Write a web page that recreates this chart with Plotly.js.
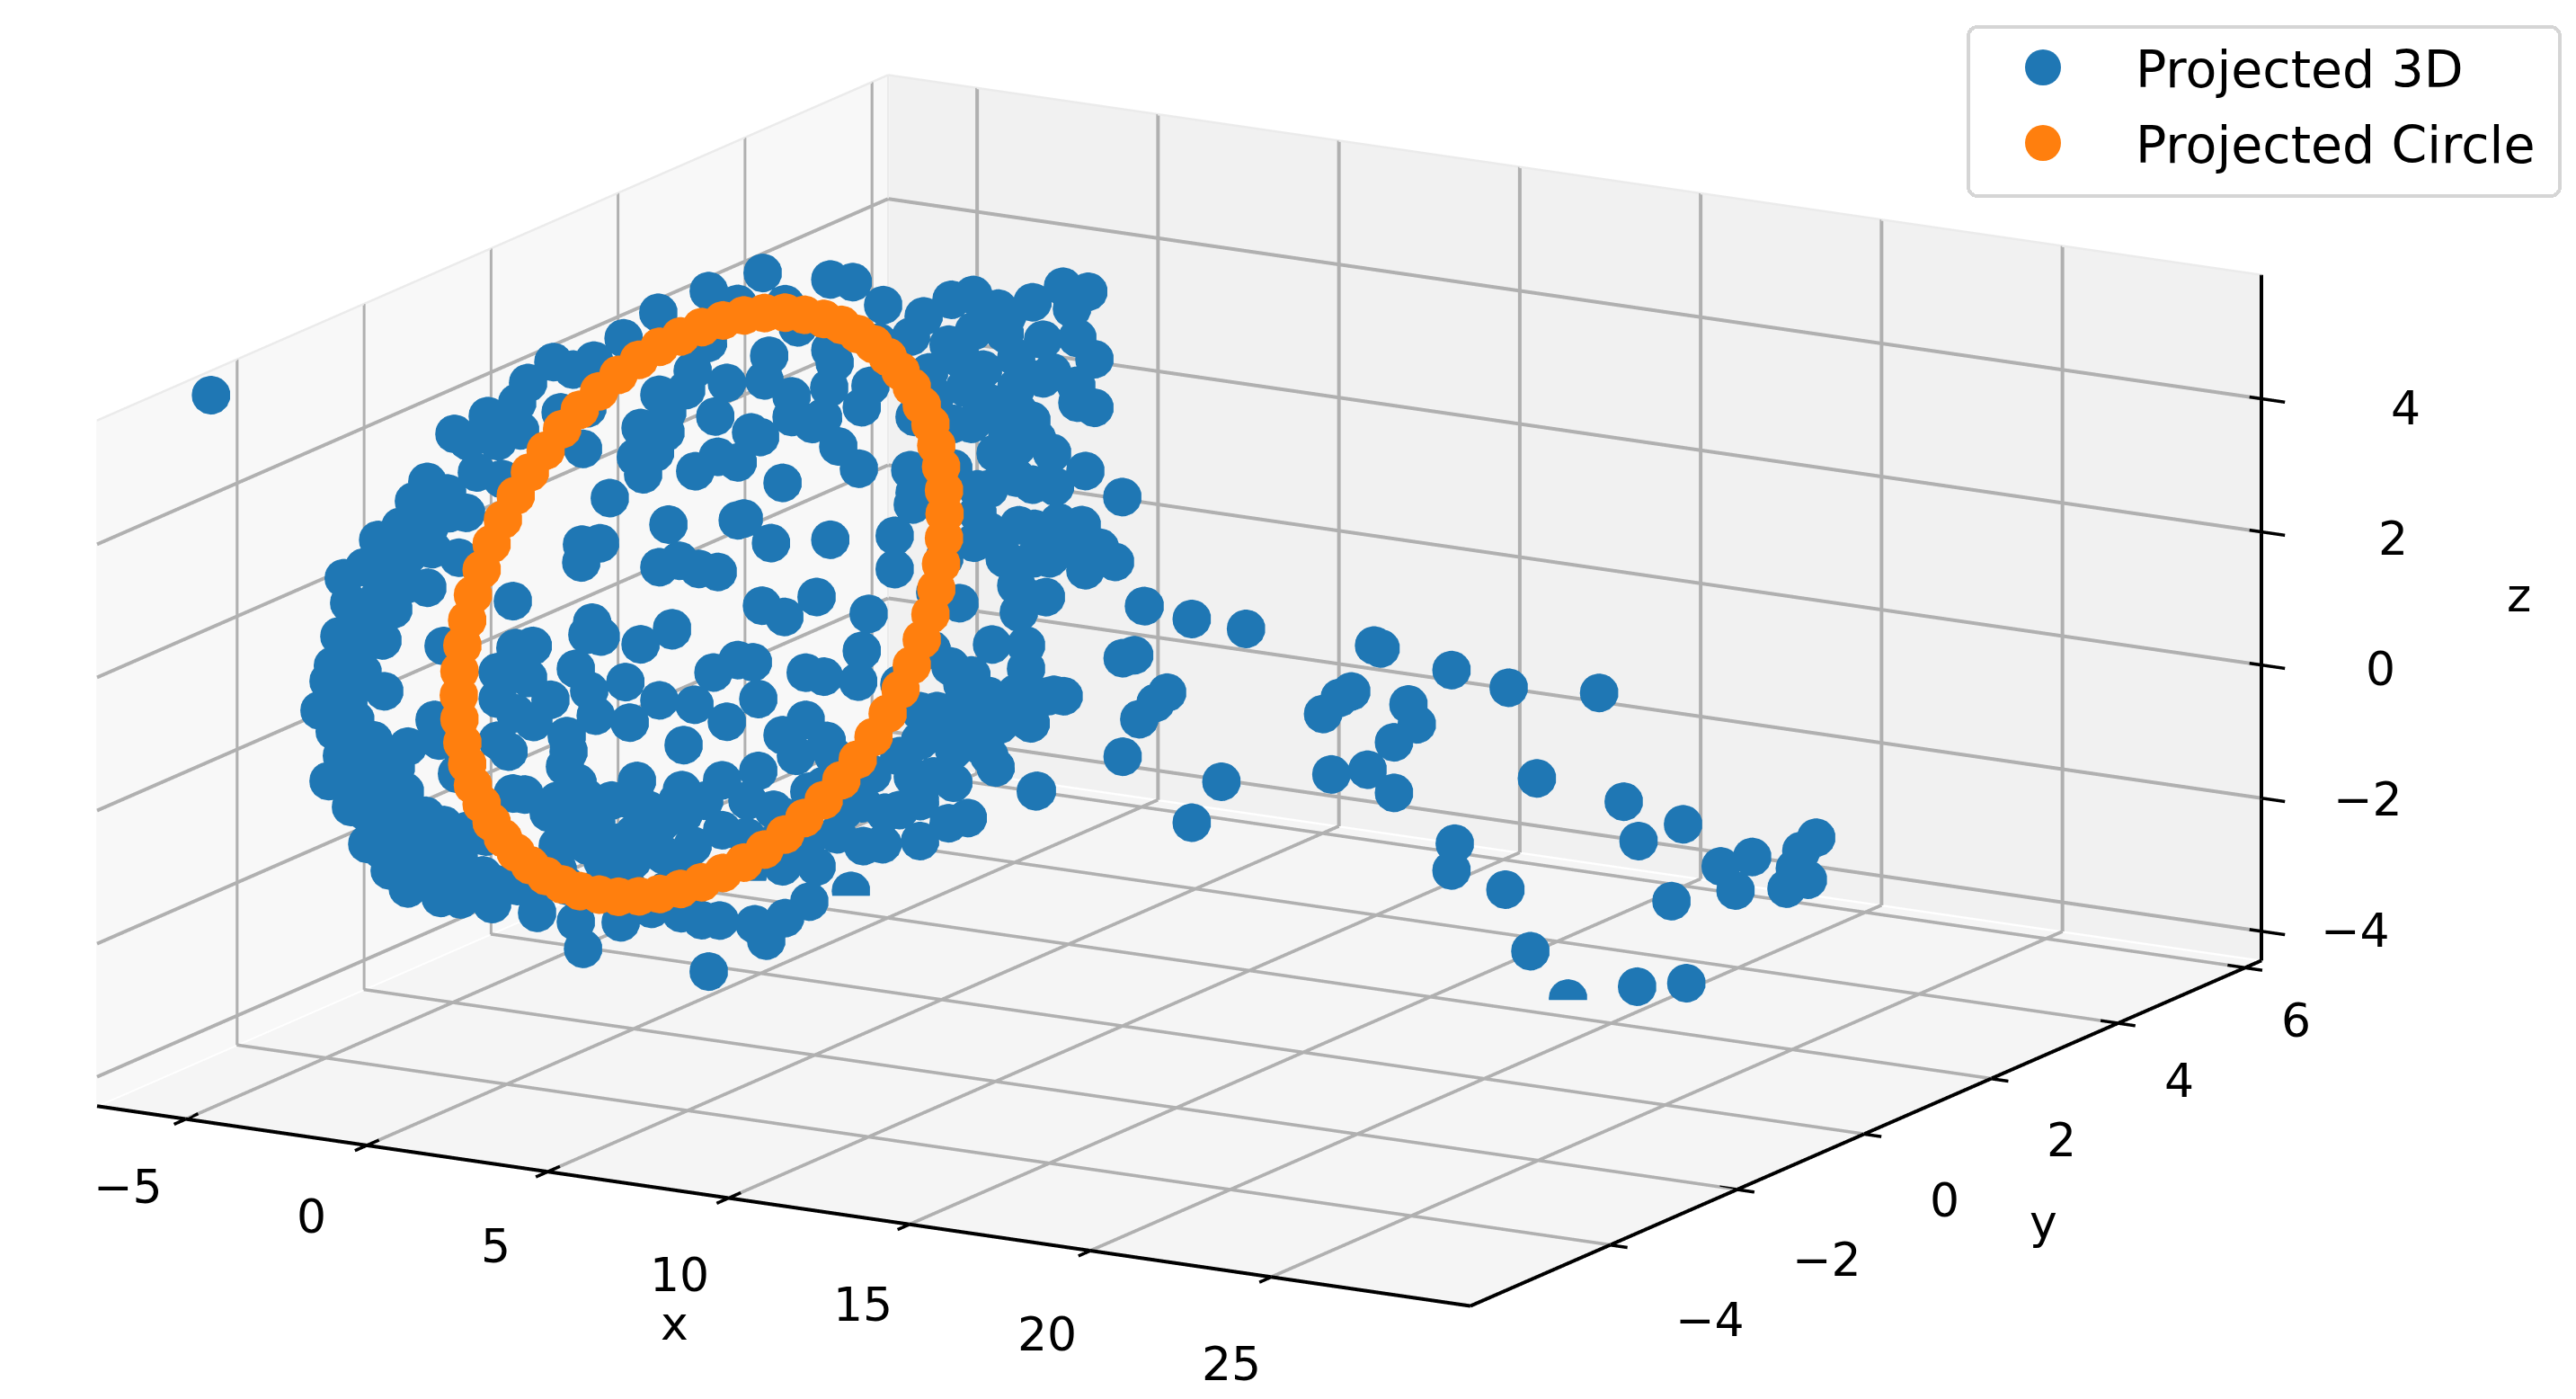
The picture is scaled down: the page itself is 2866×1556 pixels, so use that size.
<!DOCTYPE html><html><head><script src="https://cdn.plot.ly/plotly-3.0.1.min.js"></script><style>html,body{margin:0;padding:0;background:#fff;overflow:hidden}</style></head><body><div id="g" style="width:3200px;height:1600px;margin-top:-32px;margin-left:-288px"></div><script>
var xBox=[-7.46,30.5],yBox=[-6.2,6.26],zBox=[-4.44,5.86];
var xView=[-10,33.04],yView=[-8,8.06],zView=[-6.8,8.22];
var xTicks=[-5,0,5,10,15,20,25],yTicks=[-4,-2,0,2,4,6],zTicks=[-4,-2,0,2,4];
var xLab=['\u22125','0','5','10','15','20','25'],yLab=['\u22124','\u22122','0','2','4','6'],zLab=['\u22124','\u22122','0','2','4'];
var circleX=[1.90,1.90,1.89,1.88,1.86,1.83,1.80,1.77,1.73,1.69,1.64,1.59,1.54,1.48,1.42,1.36,1.30,1.23,1.17,1.11,1.04,.98,.92,.86,.80,.75,.70,.65,.61,.57,.54,.51,.48,.46,.45,.44,.44,.44,.45,.46,.48,.51,.54,.57,.61,.65,.70,.75,.80,.86,.92,.98,1.04,1.11,1.17,1.23,1.30,1.36,1.42,1.48,1.54,1.59,1.64,1.69,1.73,1.77,1.80,1.83,1.86,1.88,1.89,1.90];
var circleY=[1.81,1.80,1.76,1.69,1.61,1.49,1.35,1.19,1.01,.81,.59,.36,.11,-.16,-.43,-.72,-1.01,-1.30,-1.60,-1.90,-2.19,-2.48,-2.77,-3.04,-3.31,-3.56,-3.79,-4.01,-4.21,-4.39,-4.55,-4.69,-4.81,-4.89,-4.96,-5.00,-5.01,-5.00,-4.96,-4.89,-4.81,-4.69,-4.55,-4.39,-4.21,-4.01,-3.79,-3.56,-3.31,-3.04,-2.77,-2.48,-2.19,-1.90,-1.60,-1.30,-1.01,-.72,-.43,-.16,.11,.36,.59,.81,1.01,1.19,1.35,1.49,1.61,1.69,1.76,1.80];
var circleZ=[1.87,2.23,2.60,2.95,3.30,3.63,3.96,4.26,4.55,4.82,5.06,5.29,5.48,5.65,5.79,5.90,5.98,6.02,6.04,6.02,5.98,5.90,5.79,5.65,5.48,5.29,5.06,4.82,4.55,4.26,3.96,3.63,3.30,2.95,2.60,2.23,1.87,1.51,1.14,.79,.44,.11,-.22,-.52,-.81,-1.08,-1.33,-1.55,-1.75,-1.91,-2.05,-2.16,-2.24,-2.28,-2.30,-2.28,-2.24,-2.16,-2.05,-1.91,-1.75,-1.55,-1.33,-1.08,-.81,-.52,-.22,.11,.44,.79,1.14,1.51];
var blueDepths=[-5.5,-3.5,-.5,2.5,-.8];
var blue0X=[-5.55],blue0Z=[6.11];
var blue1X=[-1.41,-2.33,-1.96,-1.71,-3.08,-2.53,-2.01,-3.45,-3.82,-3.03,-2.21,-4.82,-5.39,-4.20,-3.62,-3.08,-5.24,-4.02,-5.51,-4.32,-5.81,-4.87,-4.27,-6.06,-5.26,-5.64,-4.57,-5.44,-3.95,-5.81,-4.87,-4.27,-5.19,-4.77,-4.74,-3.62,-2.88,-2.76,-3.13,-3.53,-4.12,-3.62,-2.71,-2.16,-1.29,-2.63,-2.26,-2.63,-1.96,-4.02,-3.20,-2.38,-1.54,-4.94,-2.28,-3.20,
-5.07,-5.07,-5.07,-5.07,-4.32,-4.32,-4.32,-3.70,-3.70,-2.95,-2.95,-2.21,-1.59,-1.46,-4.94,-5.69,-4.44,-3.70,-4.44,-2.95,-2.46];
var blue1Z=[5.29,4.95,4.87,4.42,4.17,4.04,3.79,3.85,3.44,3.48,3.10,2.75,2.54,2.83,3.02,2.58,2.18,2.18,1.66,1.69,.96,1.17,.93,.50,.65,.22,.17,-.13,-.19,-.54,-.36,-.58,-.88,-.93,-1.40,.15,.61,.31,-.85,-.96,-1.75,-1.98,-2.05,-2.03,-2.03,1.74,-.15,-.95,-.98,-1.37,-1.30,-1.47,-1.62,.22,-1.81,-1.80,
1.52,.98,.44,-.50,-.18,-.99,-1.47,-.53,-1.48,-1.15,-1.76,-1.36,-1.85,-1.03,1.93,1.20,3.19,2.57,2.31,3.17,3.75];
var blue2X=[-1.96,-2.92,-3.74,-4.86,-4.32,-5.56,-5.86,-4.66,-3.92,-5.78,-6.40,-6.28,-4.04,-5.98,-2.45,-1.76,-2.58,-2.05,-2.38,-1.93,-1.19,-1.71,-1.01,-.94,-3.30,-1.68,-4.07,-3.57,-4.09,-1.93,-1.38,-.84,-3.79,-1.58,
-5.91,-5.43,-5.56,-6.40,-6.40,-4.94,-5.91,-5.41,-6.10,-6.40,-4.49,-4.44,-4.54,-4.19,-3.94,-4.74,-5.98,-5.66,-4.99,-4.32,-3.67,-3.07,-3.92,-4.74,-3.50,-2.68,-1.83,-1.01,-1.43,-1.31,-1.83,-.69,-2.55,-2.80,-2.63,-4.24,-3.87,-3.69,-2.87,-2.75,-1.93,-.96,-1.26,-3.92,-3.55,-2.45,-1.58,-4.04,-4.24,-3.00,-2.33,-1.33,-.76,-5.31,-4.74,-5.56,-6.40,-2.15,-1.78,
-5.86,-5.23,-4.49,-3.74,-2.75,-1.76,-1.01,-3.25,-2.25,-1.26,-3.00,-1.26,-2.25];
var blue2Z=[5.55,5.09,4.69,4.58,4.51,4.21,3.89,3.84,3.96,3.48,3.27,2.71,3.34,.90,3.78,3.77,3.33,3.44,3.09,4.32,4.45,4.08,4.75,3.25,2.66,2.39,1.90,1.96,1.63,1.73,1.87,1.79,.75,.84,
.20,.27,-.22,-.20,-.60,-.50,-.78,-.87,-1.37,-1.23,-1.01,-1.24,-1.47,-1.69,-1.90,-2.00,-1.99,-1.98,-2.20,-2.24,-2.28,-2.50,-2.61,-2.68,-2.81,-2.74,-2.58,-2.38,-1.74,-1.57,-2.08,-1.68,-1.53,-1.82,-2.33,.02,-.28,-.64,-.07,-.67,-.27,-.26,-.89,.56,.56,.53,.81,-4.17,-3.78,-3.69,-3.39,-3.42,-3.48,-3.73,-3.04,-3.19,-3.39,-3.42,-1.99,
-3.37,-3.32,-3.26,-3.27,-3.19,-3.12,-2.99,-1.88,-1.94,-1.93,-2.81,-2.74,-2.34];
var blue3X=[-5.83,-5.65,-5.33,-5.85,-5.58,-5.03,-5.58,-5.03,-4.34,-2.47,-1.85,-1.01,-5.03,-3.72,-3.37,-1.13,-4.16,-2.47,-2.35,-4.29,-3.54,-2.50,-1.36,-1.60,-3.54,-2.97,-2.67,-4.66,-4.41,-2.25,-1.68,-3.79,-4.86,-4.11,-2.47,-4.36,-3.74,-2.85,-1.41,
.11,-.24,.88,1.48,2.17,3.12,3.96,4.66,4.21,.80,1.50,2.35,2.67,3.41,4.36,4.83,3.66,4.33,4.36,4.83,1.75,1.25,1.92,2.74,3.09,.26,-.14,1.43,2.10,2.67,3.24,3.66,4.58,3.12,3.74,5.60,1.60,1.92,1.50,1.60,2.74,2.35,3.17,3.84,4.48,4.98,5.40,4.58,3.59,2.92,3.49,2.74,6.22,-.26,-.14,-.19,-.69,-.69,.43,1.10,
-5.70,-5.33,-5.46,-5.46,-5.03,
-4.61,-4.46,-3.15,-2.65,-1.60,-1.70,.01,2.00,2.94,2.94,3.71,3.04,2.20,2.10,3.24,.95,-.19,.38,1.33,.80,.01,-1.03,-1.90,-2.28,-2.85,-3.15,-3.79,-2.57,-3.42,-4.46,-4.76,-3.79,-2.38,-1.60,-.96,.01,.95,1.43,-3.79,-4.76,-2.28,-2.65,-3.32,-3.99,.01,1.43,.48,1.72,1.90,.85,1.43,.33,
6.20,7.52,9.02,5.61,5.93,6.07,6.52,6.84,5.61,8.34,7.52,3.21,3.07,3.98,3.57,11.15,11.61,11.93,13.51,13.74,13.11,12.56,12.74,14.70,16.28,18.78,11.38,12.38,13.11,17.06,19.46,19.87,21.10,14.79,14.70,16.19,16.88,17.92,19.83,21.19,20.78,22.14,22.55,23.01,23.96,24.37,24.78,24.55,24.19,
-4.79,-4.04,-4.04,-3.05,-3.05,-2.05,-2.05,-1.31,-.56,.43,-.56,1.18,2.67,1.92,.93,-.56,-1.56,.43,1.18,2.67,3.41,2.42,.93,2.42,.93,2.67,1.92,3.17,2.67,4.16,.68];
var blue3Z=[4.32,2.45,2.98,3.54,1.85,1.81,.12,.94,4.71,4.76,4.77,4.49,4.19,4.29,3.97,3.92,3.48,3.70,3.52,3.10,2.92,3.13,3.25,2.91,2.61,2.55,2.67,2.29,2.24,2.27,1.98,1.60,.98,.67,.85,-.29,-.41,-.04,-.18,
4.41,4.08,4.72,4.84,4.69,4.86,5.16,5.14,4.85,4.04,4.30,4.33,3.99,4.32,4.42,4.14,3.85,3.70,3.45,3.41,3.74,3.43,3.25,3.18,3.08,3.58,2.88,2.90,2.51,2.64,2.82,2.64,2.44,2.12,2.14,2.13,1.93,1.96,1.12,1.57,1.48,.95,1.46,1.61,1.62,1.32,1.14,.95,1.05,.42,.46,.17,.54,2.07,1.74,1.56,1.05,.55,.29,.18,
-1.40,-2.11,-3.75,-3.00,-1.16,
-1.16,-1.70,-1.20,-1.22,-.75,-1.22,-1.53,-.37,-.31,-.66,-.99,-1.46,-1.56,-2.21,-2.47,-2.03,-2.53,-2.48,-3.03,-3.15,-3.48,-3.61,-4.38,-3.56,-4.09,-1.91,-2.19,-2.18,-2.47,-2.78,-3.25,-3.41,-2.39,-3.04,-3.13,-2.88,-1.68,-1.19,-4.16,-4.37,-3.05,-2.86,-3.72,-3.82,-1.97,-1.65,-1.49,-1.93,-1.15,-.79,-.88,-.58,
.54,.45,.42,-.29,-.22,-1.17,-.89,-.71,-1.77,-1.93,-2.61,-2.48,-1.47,-.99,-1.02,-.69,-.41,-.29,-.36,-.64,-.96,.45,.42,.25,.11,.23,-1.58,-1.43,-1.72,-1.19,-1.35,-1.91,-1.56,-2.35,-2.76,-2.93,-3.80,-4.43,-4.10,-3.94,-2.74,-2.11,-2.44,-1.90,-2.30,-1.70,-1.47,-2.12,-1.98,
-3.80,-3.33,-4.01,-2.98,-3.66,-3.17,-2.77,-2.58,-2.25,-1.63,-1.17,-1.03,-1.05,-2.05,-2.53,-3.06,-3.68,3.23,3.83,3.54,3.74,4.60,2.86,2.85,2.19,2.19,1.32,1.02,.57,1.23,.82];
var blue4X=[.26,-.04,2.07,1.55,1.23,2.74],blue4Z=[-3.28,-4.07,-3.10,-3.48,-3.26,-2.80];
var blueX=blue0X.concat(blue1X,blue2X,blue3X,blue4X),blueZ=blue0Z.concat(blue1Z,blue2Z,blue3Z,blue4Z),blueY=[];
[blue0X,blue1X,blue2X,blue3X,blue4X].forEach(function(b,i){b.forEach(function(){blueY.push(blueDepths[i])})});

function ln(xs,ys,zs,c,w){return {type:'scatter3d',mode:'lines',x:xs,y:ys,z:zs,line:{color:c,width:w},showlegend:false,hoverinfo:'skip'}}
function segs(list){var X=[],Y=[],Z=[];list.forEach(function(s){X.push(s[0],s[3],null);Y.push(s[1],s[4],null);Z.push(s[2],s[5],null)});return [X,Y,Z]}
var x0=xBox[0],x1=xBox[1],y0=yBox[0],y1=yBox[1],z0=zBox[0],z1=zBox[1],g=[],t=[],e=[],p=[];
xTicks.forEach(function(v){g.push([v,y0,z0,v,y1,z0],[v,y1,z0,v,y1,z1]);t.push([v,y0-.19,z0,v,y0+.19,z0])});
yTicks.forEach(function(v){g.push([x0,v,z0,x1,v,z0],[x0,v,z0,x0,v,z1]);t.push([x1-.48,v,z0,x1+.48,v,z0])});
zTicks.forEach(function(v){g.push([x0,y0,v,x0,y1,v],[x0,y1,v,x1,y1,v]);t.push([x1-.33,y1,v,x1+.65,y1,v])});
e.push([x0,y0,z0,x1,y0,z0],[x1,y0,z0,x1,y1,z0],[x1,y1,z0,x1,y1,z1]);
p.push([x0,y0,z1,x0,y1,z1],[x0,y1,z1,x1,y1,z1],[x0,y1,z0,x0,y1,z1]);
function pane(xs,ys,zs,c){return {type:'mesh3d',x:xs,y:ys,z:zs,i:[0,0],j:[1,2],k:[2,3],color:c,flatshading:true,lighting:{ambient:1,diffuse:0,specular:0,roughness:1,fresnel:0},hoverinfo:'skip',showlegend:false,showscale:false}}
var d=.02,tr=[
pane([x0-d,x0-d,x0-d,x0-d],[y0,y1,y1,y0],[z0,z0,z1,z1],'#f8f8f8'),
pane([x0,x1,x1,x0],[y1+d,y1+d,y1+d,y1+d],[z0,z0,z1,z1],'#f1f1f1'),
pane([x0,x1,x1,x0],[y0,y0,y1,y1],[z0-d,z0-d,z0-d,z0-d],'#f5f5f5')];
var a=segs(p);tr.push(ln(a[0],a[1],a[2],'#ebebeb',5));
a=segs(g);tr.push(ln(a[0],a[1],a[2],'#b0b0b0',8));
a=segs(t);tr.push(ln(a[0],a[1],a[2],'#000000',7));
a=segs(e);tr.push(ln(a[0],a[1],a[2],'#000000',8));
var ms=25;
tr.push({type:'scatter3d',mode:'markers',name:'Projected 3D',x:blueX,y:blueY,z:blueZ,marker:{size:ms,color:'#1f77b4',line:{width:0}}});
tr.push({type:'scatter3d',mode:'markers',name:'Projected Circle',x:circleX,y:circleY,z:circleZ,marker:{size:ms,color:'#ff7f0e',line:{width:0}}});
var F={family:'DejaVu Sans',size:52,color:'#000'},ann=[];
function lab(x,y,z,s,dx,dy){ann.push({x:x,y:y,z:z,text:s,showarrow:false,font:F,xanchor:'center',yanchor:'middle',xshift:dx,yshift:-dy})}
xTicks.forEach(function(v,i){lab(v,y0,z0,xLab[i],-65+.667*(v+5),75+.733*(v+5))});
yTicks.forEach(function(v,i){lab(x1,v,z0,yLab[i],111-5.4*(v+4),83-2.4*(v+4))});
zTicks.forEach(function(v,i){lab(x1,y1,v,zLab[i],132.5+6.9*v,4.5+1.4*v)});
lab(10,y0,z0,'x',-60,140);lab(x1,0,z0,'y',200,98);lab(x1,y1,0,'z',286,-78);
var W=3200,H=1600,dist=6;
var layout={width:W,height:H,margin:{l:0,r:0,t:0,b:0},paper_bgcolor:'#fff',
showlegend:true,legend:{x:(2188+288)/W,y:1-(28+32)/H,xanchor:'left',yanchor:'top',bgcolor:'#fff',bordercolor:'#d5d5d5',borderwidth:4,font:{family:'DejaVu Sans',size:57,color:'#000'},itemwidth:176,itemclick:false,itemdoubleclick:false},
scene:{domain:{x:[0,1],y:[0,1]},xaxis:{visible:false,range:xView,autorange:false},yaxis:{visible:false,range:yView,autorange:false},zaxis:{visible:false,range:zView,autorange:false},aspectmode:'manual',aspectratio:{x:2.5005,y:2.836,z:1.4364},camera:{eye:{x:.4838*dist,y:-.838*dist,z:.252*dist},center:{x:0,y:0,z:0},up:{x:0,y:0,z:1},projection:{type:'orthographic'}},annotations:ann}};
Plotly.newPlot('g',tr,layout,{displayModeBar:false}).then(function(){
var bg=document.querySelector('.legend rect.bg');bg.setAttribute('rx',10);bg.setAttribute('ry',10);bg.setAttribute('width',658);bg.setAttribute('height',188);
var sb=document.querySelector('.legend .scrollbox');sb.removeAttribute('clip-path');
var rows=document.querySelectorAll('.legend .traces');
[47,131].forEach(function(yy,i){rows[i].setAttribute('transform','translate(2,'+yy+')');});
document.querySelectorAll('.legendpoints path').forEach(function(p){p.setAttribute('transform','translate(83,0) scale(2.5)');});
});
</script></body></html>
